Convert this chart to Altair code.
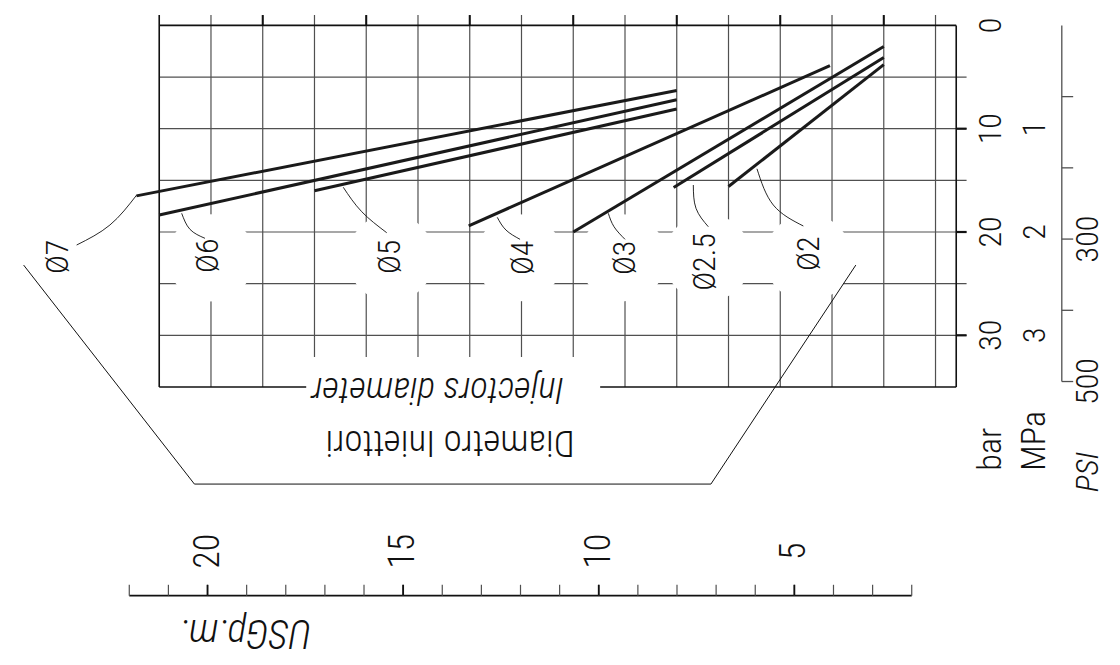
import altair as alt
import pandas as pd

# ---------------- data (flow in l/min across, pressure in bar downward) ----------------
diam_labels = ["Ø7", "Ø6", "Ø5", "Ø4", "Ø3", "Ø2.5", "Ø2"]
line_q_start = [82.2, 80.0, 65.0, 50.1, 40.0, 30.3, 25.0]
line_p_start = [16.5, 18.35, 16.0, 19.4, 20.0, 15.7, 15.6]
line_q_end = [30.0, 30.0, 30.0, 15.2, 10.0, 10.0, 10.0]
line_p_end = [6.3, 7.2, 8.1, 3.9, 2.05, 3.1, 3.8]

label_q = [89.8, 75.3, 57.7, 44.9, 35.0, 27.3, 17.2]
label_p = [22.4, 22.3, 22.4, 22.5, 22.5, 22.9, 22.1]

mask_q = [75.0, 57.6, 45.2, 35.2, 27.0, 17.3]
mask_p = [22.5, 22.5, 22.5, 22.5, 22.5, 22.5]

leader_q = [[82.18, 84.76, 87.98], [77.83, 77.03, 75.58], [62.22, 60.44, 58.02],
            [47.34, 46.50, 45.14], [36.61, 36.06, 35.0], [28.40, 28.14, 26.95],
            [22.25, 20.67, 17.77]]
leader_p = [[16.42, 19.32, 21.26], [18.19, 19.74, 20.61], [15.67, 18.03, 20.07],
            [18.58, 19.81, 20.71], [18.19, 19.49, 20.71], [15.45, 17.71, 19.49],
            [13.88, 17.39, 19.42]]

grid_q = [5, 10, 15, 20, 25, 30, 35, 40, 45, 50, 55, 60, 65, 70, 75]
grid_p = [5, 10, 15, 20, 25, 30]
bar_ticks = [0, 10, 20, 30]
mpa_labels = [1, 2, 3]
psi_ticks = [100, 200, 300, 400, 500]
psi_labels = [300, 500]
PSI_PER_BAR = 14.5038
gpm_ticks = list(range(2, 23))
gpm_labels = [5, 10, 15, 20]

hex_q = [93.1, 76.6, 26.7, 12.7]
hex_p = [23.2, 44.4, 44.4, 23.2]

# ---------------- layout constants ----------------
LEFT_Q, RIGHT_Q, TICK_Q = 80.0, 3.0, 2.0
TOP_P, BOTTOM_P, TOPTICK_P = 0.0, 35.0, -1.0
BAR_LAB_Q, MPA_LAB_Q = -0.4, -4.6
PSI_AX_Q, PSI_TICK_Q, PSI_LAB_Q = -7.2, -8.3, -9.7
GPM_AX_P, GPM_TICK_P, GPM_LAB_P = 55.2, 54.15, 50.9

FONT = "Roboto Condensed, Liberation Sans Narrow, DejaVu Sans Condensed, sans-serif"
GRID_C = "#505050"
INK = "#111111"
DIGIT_SIZE = 32

xs = alt.Scale(domain=[-12.05, 94.61], reverse=True, nice=False, zero=False)
ys = alt.Scale(domain=[-1.684, 61.14], reverse=True, nice=False, zero=False)
gs = alt.Scale(domain=[-3.119, 25.10], reverse=True, nice=False, zero=False)


def X(f, scale=xs):
    return alt.X(f, type="quantitative", scale=scale, axis=None)


def Y(f):
    return alt.Y(f, type="quantitative", scale=ys, axis=None)


def rules(df, color, width):
    return alt.Chart(df).mark_rule(color=color, strokeWidth=width).encode(
        x=X("q"), x2="q2", y=Y("p"), y2="p2")


def texts(df, angle, size, italic=False, align="center", xscale=xs, xfield="q"):
    kw = dict(angle=angle, font=FONT, fontSize=size, fontWeight=300, color=INK,
              align=align, baseline="middle")
    if italic:
        kw["fontStyle"] = "italic"
    return alt.Chart(df).mark_text(**kw).encode(
        x=X(xfield, xscale), y=Y("p"), text="t:N")


layers = []

# vertical grid lines (with top ticks)
vdf = pd.DataFrame({"q": grid_q, "q2": grid_q,
                    "p": [TOPTICK_P] * len(grid_q), "p2": [BOTTOM_P] * len(grid_q)})
layers.append(rules(vdf, GRID_C, 1.2))
maj = [v for v in grid_q if v % 10 == 0]
tdf = pd.DataFrame({"q": maj, "q2": maj, "p": [TOPTICK_P] * len(maj), "p2": [TOP_P] * len(maj)})
layers.append(rules(tdf, INK, 2.0))
# horizontal grid lines extended as ticks to the right
hdf = pd.DataFrame({"q": [LEFT_Q] * len(grid_p), "q2": [TICK_Q] * len(grid_p),
                    "p": grid_p, "p2": grid_p})
layers.append(rules(hdf, GRID_C, 1.2))
mt = [10, 20, 30]
mdf = pd.DataFrame({"q": [RIGHT_Q] * 3, "q2": [TICK_Q] * 3, "p": mt, "p2": mt})
layers.append(rules(mdf, INK, 2.2))
# frame
fdf = pd.DataFrame({"q": [LEFT_Q, LEFT_Q, RIGHT_Q, LEFT_Q],
                    "q2": [RIGHT_Q, RIGHT_Q, RIGHT_Q, LEFT_Q],
                    "p": [TOP_P, BOTTOM_P, TOP_P, TOPTICK_P],
                    "p2": [TOP_P, BOTTOM_P, BOTTOM_P, BOTTOM_P]})
layers.append(rules(fdf, INK, 1.6))

# white knock-outs behind the diameter labels
mk = pd.DataFrame({"q": mask_q, "p": mask_p})
layers.append(alt.Chart(mk).mark_point(shape="circle", filled=True, color="white",
                                       opacity=1, size=7600, strokeWidth=0).encode(
    x=X("q"), y=Y("p")))
# white box behind the "Injectors diameter" title
bx = pd.DataFrame({"q": [65.8], "q2": [37.4], "p": [32.1], "p2": [37.7]})
layers.append(alt.Chart(bx).mark_rect(color="white", opacity=1).encode(
    x=X("q"), x2="q2", y=Y("p"), y2="p2"))

# bracket around the labels
hx = pd.DataFrame({"q": hex_q, "p": hex_p, "i": list(range(len(hex_q)))})
layers.append(alt.Chart(hx).mark_line(color=INK, strokeWidth=1.0).encode(
    x=X("q"), y=Y("p"), order="i"))

# injector lines
ld = pd.DataFrame({"d": diam_labels, "q": line_q_start, "q2": line_q_end,
                   "p": line_p_start, "p2": line_p_end})
layers.append(alt.Chart(ld).mark_rule(color="#1a1a1a", strokeWidth=3.0, strokeCap="butt").encode(
    x=X("q"), x2="q2", y=Y("p"), y2="p2"))

# leader curves
rows = []
for d, qs_, ps_ in zip(diam_labels, leader_q, leader_p):
    for i, (a, b) in enumerate(zip(qs_, ps_)):
        rows.append({"d": d, "q": a, "p": b, "i": i})
lead = pd.DataFrame(rows)
layers.append(alt.Chart(lead).mark_line(color=INK, strokeWidth=0.9, interpolate="natural").encode(
    x=X("q"), y=Y("p"), detail="d:N", order="i:Q"))

# diameter labels
lab = pd.DataFrame({"t": diam_labels, "q": label_q, "p": label_p})
layers.append(texts(lab, 270, DIGIT_SIZE))

# right-hand scales
bl = pd.DataFrame({"t": [str(v) for v in bar_ticks], "q": [BAR_LAB_Q] * 4, "p": bar_ticks})
ml = pd.DataFrame({"t": [str(v) for v in mpa_labels], "q": [MPA_LAB_Q] * 3,
                   "p": [v * 10 for v in mpa_labels]})
pl = pd.DataFrame({"t": [str(v) for v in psi_labels], "q": [PSI_LAB_Q] * 2,
                   "p": [v / PSI_PER_BAR for v in psi_labels]})
for df in (bl, ml, pl):
    layers.append(texts(df, 270, DIGIT_SIZE))
units = pd.DataFrame({"t": ["bar", "MPa"], "q": [BAR_LAB_Q, MPA_LAB_Q], "p": [43.1, 43.1]})
layers.append(texts(units, 270, 34, align="left"))
psi_u = pd.DataFrame({"t": ["PSI"], "q": [PSI_LAB_Q], "p": [45.2]})
layers.append(texts(psi_u, 270, 32, italic=True, align="left"))

pax = pd.DataFrame({"q": [PSI_AX_Q], "q2": [PSI_AX_Q], "p": [0.0], "p2": [500 / PSI_PER_BAR]})
layers.append(rules(pax, GRID_C, 1.3))
ptk = pd.DataFrame({"q": [PSI_AX_Q] * 5, "q2": [PSI_TICK_Q] * 5,
                    "p": [v / PSI_PER_BAR for v in psi_ticks],
                    "p2": [v / PSI_PER_BAR for v in psi_ticks]})
layers.append(rules(ptk, GRID_C, 1.3))

# titles of the label group
t1 = pd.DataFrame({"t": ["Injectors diameter"], "q": [53.1], "p": [35.2]})
layers.append(texts(t1, 180, 37, italic=True))
t2 = pd.DataFrame({"t": ["Diametro Iniettori"], "q": [51.9], "p": [40.3]})
layers.append(texts(t2, 180, 37))

# USGpm scale (own horizontal scale)
gax = pd.DataFrame({"g": [gpm_ticks[-1]], "g2": [gpm_ticks[0]], "p": [GPM_AX_P], "p2": [GPM_AX_P]})
layers.append(alt.Chart(gax).mark_rule(color=INK, strokeWidth=1.6).encode(
    x=X("g", gs), x2="g2", y=Y("p"), y2="p2"))
gtk = pd.DataFrame({"g": gpm_ticks, "g2": gpm_ticks,
                    "p": [GPM_TICK_P] * len(gpm_ticks), "p2": [GPM_AX_P] * len(gpm_ticks)})
layers.append(alt.Chart(gtk).mark_rule(color=GRID_C, strokeWidth=1.2).encode(
    x=X("g", gs), x2="g2", y=Y("p"), y2="p2"))
gmj = pd.DataFrame({"g": gpm_labels, "g2": gpm_labels,
                    "p": [GPM_TICK_P] * 4, "p2": [GPM_AX_P] * 4})
layers.append(alt.Chart(gmj).mark_rule(color=INK, strokeWidth=1.8).encode(
    x=X("g", gs), x2="g2", y=Y("p"), y2="p2"))
glab = pd.DataFrame({"t": [str(v) for v in gpm_labels], "g": gpm_labels,
                     "p": [GPM_LAB_P] * 4})
layers.append(texts(glab, 270, 36, xscale=gs, xfield="g"))
gt = pd.DataFrame({"t": ["USGp.m."], "q": [71.7], "p": [58.7]})
layers.append(texts(gt, 180, 40, italic=True))

chart = (alt.layer(*layers)
         .resolve_scale(x="independent")
         .properties(width=1104, height=649, padding=0, background="white",
                     autosize=alt.AutoSizeParams(type="none"))
         .configure_view(strokeWidth=0))

chart.save("out.html", embed_options={"renderer": "svg", "actions": False})
